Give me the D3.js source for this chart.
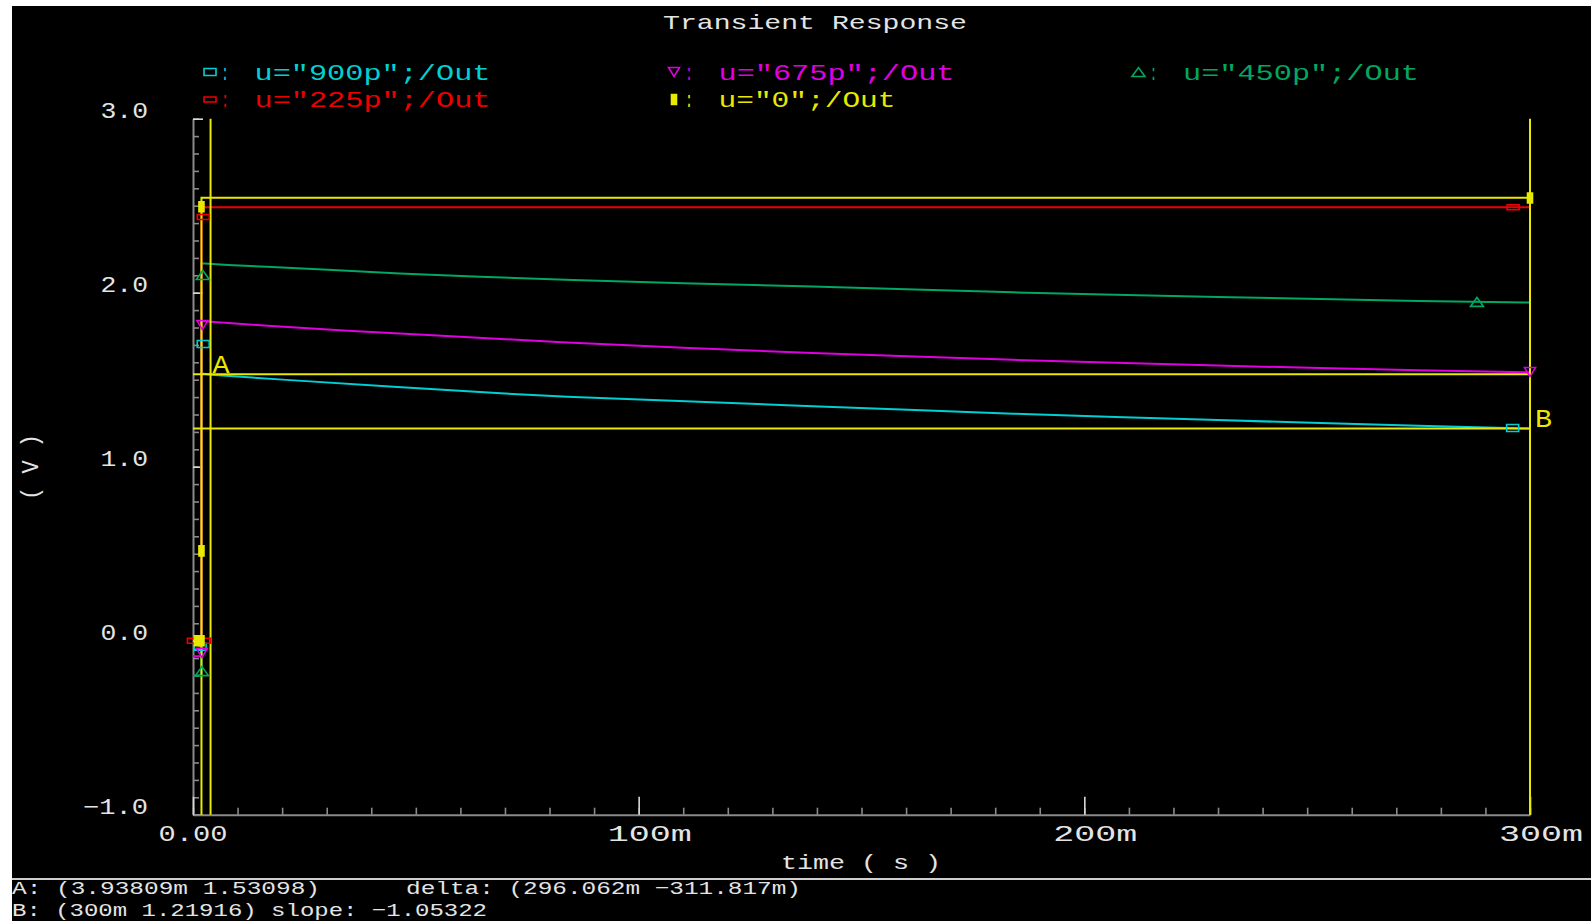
<!DOCTYPE html>
<html>
<head>
<meta charset="utf-8">
<script src="https://cdn.jsdelivr.net/npm/d3@7"></script>
<style>
  body { margin: 0; background: #ffffff; }
  svg { display: block; }
  text { font-family: 'Liberation Mono', 'DejaVu Sans Mono', monospace; }
</style>
</head>
<body>
<div class="chart"></div>
<script>
// time in ms, voltage in V
var timeTicks = [0, 100, 200, 300];
var timeTickLabels = ['0.00', '100m', '200m', '300m'];
var voltTicks = [-1, 0, 1, 2, 3];
var voltTickLabels = ['\u22121.0', '0.0', '1.0', '2.0', '3.0'];

var seriesNames = ['u="900p";/Out', 'u="675p";/Out', 'u="450p";/Out', 'u="225p";/Out', 'u="0";/Out'];

var out900 = [[0,-0.05],[1.9,-0.05],[1.9,1.72],[1.95,1.535],[4.9,1.527],[21,1.499],[45,1.460],[69,1.422],[84,1.402],
	[115,1.372],[139,1.348],[162,1.326],[184,1.305],[207,1.286],[230,1.268],[253,1.251],[275,1.235],[300,1.219]];
var out675 = [[0,-0.09],[1.9,-0.09],[1.9,1.837],[16.8,1.810],[34.8,1.782],[55.9,1.753],[82.8,1.715],[110,1.683],
	[139,1.654],[162,1.633],[184,1.614],[207,1.597],[230,1.581],[253,1.567],[275,1.555],[300,1.543]];
var out450 = [[0,-0.2],[1.9,-0.2],[1.9,2.169],[7.9,2.159],[16.6,2.149],[31.4,2.130],[46.4,2.111],[64.4,2.092],[85.3,2.073],
	[110,2.055],[139,2.035],[162,2.018],[184,2.002],[207,1.988],[230,1.975],[253,1.964],[275,1.953],[300,1.943]];
var out225 = [[0,-0.02],[1.9,-0.02],[1.9,2.491],[300,2.491]];
var out0 = [[0,-1.5],[1.9,-1.5],[1.9,2.546],[300,2.546]];

var marks900 = [[1.6,-0.035],[2.3,1.705],[296.1,1.222]];
var marks675 = [[2.0,-0.07],[2.1,1.814],[300,1.544]];
var marks450 = [[2.0,-0.175],[2.2,2.102],[288.1,1.947]];
var marks225 = [[0.1,0.0],[2.6,0.0],[2.3,2.435],[296.2,2.491]];
var marks0 = [[0.9,0.0],[1.9,0.0],[1.9,0.516],[1.9,2.494],[300,2.544]];

var cursorA = [3.93809, 1.53098];
var cursorB = [300, 1.21916];
var cursorText = ['A: (3.93809m 1.53098)', 'delta: (296.062m \u2212311.817m)', 'B: (300m 1.21916) slope: \u22121.05322'];

/*  ======== styles ============= */
var width = 1591, height = 921;
var plotLeft = 193, plotRight = 1530, plotTop = 118.7, plotBottom = 814.7;
var colors = ['#00d0d4', '#e000e0', '#00a862', '#ee0000', '#e8e800'];
var markerKinds = ['square', 'down', 'up', 'flat', 'tall'];
var axisColor = '#8a8a8a', majorColor = '#d8d8d8', textColor = '#e4e4e4';
var cursorColor = '#e8e800';
/*  ======== styles ============= */

var series = [out900, out675, out450, out225, out0];
var marks = [marks900, marks675, marks450, marks225, marks0];

var svg = d3.select('.chart').append('svg')
	.attr('width', width)
	.attr('height', height);

svg.append('rect')
	.attr('x', 12).attr('y', 6)
	.attr('width', width - 12).attr('height', height - 6)
	.attr('fill', '#000000');

var x = d3.scaleLinear().domain([0, 300]).range([plotLeft, plotRight]);
var y = d3.scaleLinear().domain([-1, 3]).range([plotBottom, plotTop]);

function label(g, txt, px, py, size, len, color, anchor){
	return g.append('text')
		.attr('x', px)
		.attr('y', py)
		.attr('font-size', size)
		.attr('text-anchor', anchor || 'start')
		.attr('fill', color)
		.attr('textLength', len)
		.attr('lengthAdjust', 'spacingAndGlyphs')
		.text(txt);
}

function markerPath(kind){
	if(kind == 'square') return 'M-6,-3.5h12v7h-12z';
	if(kind == 'down') return 'M-5.5,-4.5h11l-5.5,9z';
	if(kind == 'up') return 'M-6.5,4.5h13l-6.5,-9z';
	if(kind == 'flat') return 'M-6,-2.5h12v5h-12z';
	return 'M-2.5,-5h5v10h-5z';
}

function drawMarker(g, kind, cx, cy, color){
	g.append('path')
		.attr('d', markerPath(kind))
		.attr('transform', 'translate(' + cx + ',' + cy + ')')
		.attr('fill', kind == 'tall' ? color : 'none')
		.attr('stroke', color)
		.attr('stroke-width', 1.6);
}

// title
label(svg, 'Transient Response', 815, 29, 21, 304, textColor, 'middle');

// legend
var legendCols = [210, 674, 1138.5], legendRows = [79.5, 107];
var legendPos = [[0, 0], [1, 0], [2, 0], [0, 1], [1, 1]];
for(var i = 0; i < seriesNames.length; i++){
	var lx = legendCols[legendPos[i][0]], ly = legendRows[legendPos[i][1]];
	drawMarker(svg, markerKinds[i], lx, ly - 7.5, colors[i]);
	label(svg, ':', lx + 15, ly, 22, 8, colors[i], 'middle');
	label(svg, seriesNames[i], lx + 44.5, ly, 22, seriesNames[i].length == 13 ? 236 : 177, colors[i]);
}

// y axis
var minorV = d3.range(-10, 31).map(function(d){ return d / 10; });
var yMinor = svg.append('g')
	.attr('transform', 'translate(' + plotLeft + ',0)')
	.call(d3.axisRight(y).tickValues(minorV).tickSize(6).tickSizeOuter(0).tickFormat(''));
yMinor.select('.domain').attr('stroke', axisColor).attr('stroke-width', 2);
yMinor.selectAll('.tick line').attr('stroke', axisColor).attr('stroke-width', 1.6);

var yMajor = svg.append('g')
	.attr('transform', 'translate(' + plotLeft + ',0)')
	.call(d3.axisRight(y).tickValues(voltTicks).tickSize(10).tickSizeOuter(0).tickFormat(''));
yMajor.select('.domain').remove();
yMajor.selectAll('.tick line').attr('stroke', majorColor).attr('stroke-width', 1.6);

for(i = 0; i < voltTicks.length; i++){
	label(svg, voltTickLabels[i], 148, y(voltTicks[i]) - 1, 22, voltTickLabels[i].length * 17.5 - 5, textColor, 'end');
}

// x axis
var minorT = d3.range(0, 301, 10);
var xMinor = svg.append('g')
	.attr('transform', 'translate(0,' + plotBottom + ')')
	.call(d3.axisTop(x).tickValues(minorT).tickSize(7).tickSizeOuter(0).tickFormat(''));
xMinor.select('.domain').attr('stroke', axisColor).attr('stroke-width', 2);
xMinor.selectAll('.tick line').attr('stroke', axisColor).attr('stroke-width', 1.6);

var xMajor = svg.append('g')
	.attr('transform', 'translate(0,' + plotBottom + ')')
	.call(d3.axisTop(x).tickValues(timeTicks).tickSize(18).tickSizeOuter(0).tickFormat(''));
xMajor.select('.domain').remove();
xMajor.selectAll('.tick line').attr('stroke', majorColor).attr('stroke-width', 1.6);

for(i = 0; i < timeTicks.length; i++){
	var shift = timeTickLabels[i].slice(-1) == 'm' ? 11 : 0;
	label(svg, timeTickLabels[i], x(timeTicks[i]) + shift, 841, 22, timeTickLabels[i] == '0.00' ? 69 : 84, textColor, 'middle');
}

label(svg, 'time ( s )', 861, 869, 21, 160, textColor, 'middle');
label(svg, '( V )', 0, 0, 24, 66, textColor, 'middle')
	.attr('transform', 'translate(38,467) rotate(-90)');

// traces
svg.append('clipPath').attr('id', 'plotclip')
	.append('rect')
	.attr('x', plotLeft).attr('y', plotTop)
	.attr('width', plotRight - plotLeft).attr('height', plotBottom - plotTop);

var line = d3.line()
	.x(function(d){ return x(d[0]); })
	.y(function(d){ return y(d[1]); });

var traces = svg.append('g').attr('clip-path', 'url(#plotclip)');
for(i = 0; i < series.length; i++){
	traces.append('path')
		.attr('d', line(series[i]))
		.attr('fill', 'none')
		.attr('stroke', colors[i])
		.attr('stroke-width', 2);
}

// cursors
var cur = svg.append('g').attr('stroke', cursorColor).attr('stroke-width', 2);
[cursorA, cursorB].forEach(function(c){
	cur.append('line')
		.attr('x1', x(c[0])).attr('x2', x(c[0]))
		.attr('y1', y(3)).attr('y2', y(-1));
	cur.append('line')
		.attr('x1', x(0)).attr('x2', x(300))
		.attr('y1', y(c[1])).attr('y2', y(c[1]));
});

for(i = 0; i < marks.length; i++){
	for(var j = 0; j < marks[i].length; j++){
		drawMarker(svg, markerKinds[i], x(marks[i][j][0]), y(marks[i][j][1]), colors[i]);
	}
}

label(svg, 'A', x(cursorA[0]) + 2, y(cursorA[1]) - 1.5, 26, 17, cursorColor);
label(svg, 'B', x(cursorB[0]) + 5, y(cursorB[1]) - 2, 26, 17, cursorColor);

// cursor readout
svg.append('line')
	.attr('x1', 12).attr('x2', width)
	.attr('y1', 879).attr('y2', 879)
	.attr('stroke', '#cfcfcf').attr('stroke-width', 2);

label(svg, cursorText[0], 12, 894, 19, 308, textColor);
label(svg, cursorText[1], 406, 894, 19, 395, textColor);
label(svg, cursorText[2], 12, 916, 19, 475, textColor);
</script>
</body>
</html>
